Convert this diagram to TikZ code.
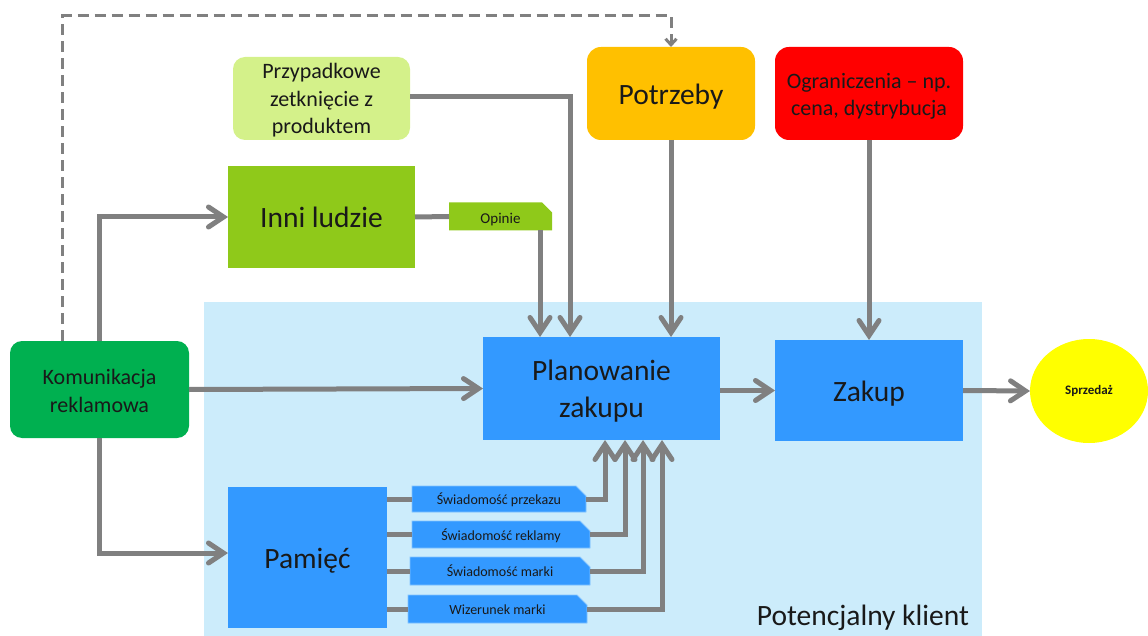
\documentclass[tikz,border=0pt]{standalone}
\usepackage{fontspec}
\setmainfont{Carlito}
\usetikzlibrary{arrows.meta,shapes.misc,shapes.geometric}
\definecolor{bgblue}{RGB}{204,236,251}
\definecolor{boxblue}{RGB}{51,153,255}
\definecolor{lightedge}{RGB}{130,195,255}
\definecolor{komgreen}{RGB}{0,176,80}
\definecolor{inngreen}{RGB}{143,201,26}
\definecolor{przgreen}{RGB}{212,241,138}
\definecolor{potorange}{RGB}{255,192,0}
\definecolor{ogrred}{RGB}{255,0,0}
\definecolor{sprz}{RGB}{255,255,0}
\definecolor{conn}{RGB}{128,128,128}
\definecolor{txt}{RGB}{25,25,25}
\begin{document}
\begin{tikzpicture}[x=1pt,y=-1pt,
  box/.style={inner sep=0pt, outer sep=0pt, align=center, text=txt},
  big/.style={font=\fontsize{29.5}{37}\selectfont},
  bigone/.style={big, text height=22pt, text depth=0pt},
  mid/.style={font=\fontsize{22}{27.5}\selectfont},
  small/.style={font=\fontsize{14}{16}\selectfont, text height=13pt, text depth=2pt},
  chip/.style={box, chamfered rectangle, chamfered rectangle corners=north east,
    chamfered rectangle xsep=5pt, chamfered rectangle ysep=5pt},
  arr/.style={draw=conn, line width=5pt, -{Straight Barb[length=15pt,width=20pt,line cap=round]}},
  plain/.style={draw=conn, line width=5pt},
  dashconn/.style={draw=conn, line width=3pt, dash pattern=on 11pt off 6pt,
    -{Straight Barb[length=6pt,width=11pt]}}
]
\useasboundingbox (0,0) rectangle (1148,636);
\node[box, fill=bgblue, minimum width=778pt, minimum height=340pt, anchor=north west] (bg) at (204,302) {};
\node[box, big, anchor=east] (pk) at (969,618) {Potencjalny klient};

\node[box, mid, fill=komgreen, rounded corners=12pt, minimum width=179pt, minimum height=97pt] (kom) at (99.5,389.5) {\rule{0pt}{18.5pt}Komunikacja\\reklamowa};
\node[box, bigone, fill=inngreen, minimum width=187pt, minimum height=102pt] (inni) at (321.5,217) {Inni ludzie};
\node[chip, fill=inngreen, font=\fontsize{15}{17}\selectfont, text height=16pt, text depth=2pt, minimum width=103pt, minimum height=27pt] (op) at (500.5,216.5) {Opinie};
\node[box, mid, fill=przgreen, rounded corners=12pt, minimum width=177pt, minimum height=83pt] (prz) at (321.5,98.5) {\rule{0pt}{19.5pt}Przypadkowe\\zetknięcie z\\produktem};
\node[box, bigone, fill=potorange, rounded corners=14pt, minimum width=168pt, minimum height=93pt] (pot) at (671,93.5) {Potrzeby};
\node[box, mid, fill=ogrred, rounded corners=14pt, minimum width=188pt, minimum height=93pt] (ogr) at (869,93.5) {\rule{0pt}{21pt}Ograniczenia – np.\\cena, dystrybucja};
\node[box, big, fill=boxblue, minimum width=237pt, minimum height=103pt] (plan) at (601.5,388.5) {\rule{0pt}{26.5pt}Planowanie\\zakupu};
\node[box, bigone, fill=boxblue, minimum width=188pt, minimum height=101pt] (zak) at (869,390.5) {Zakup};
\node[box, ellipse, fill=sprz, minimum width=118pt, minimum height=104pt, font=\fontsize{13}{15}\selectfont\bfseries] (sp) at (1089,391) {Sprzedaż};
\node[box, bigone, fill=boxblue, minimum width=159pt, minimum height=141pt] (pam) at (307.5,557.5) {Pamięć};

\node[chip, small, fill=boxblue, draw=lightedge, line width=0.8pt, minimum width=174pt, minimum height=26pt] (s1) at (499,499) {Świadomość przekazu};
\node[chip, small, fill=boxblue, draw=lightedge, line width=0.8pt, minimum width=178pt, minimum height=27pt] (s2) at (501,534.5) {Świadomość reklamy};
\node[chip, small, fill=boxblue, draw=lightedge, line width=0.8pt, minimum width=180pt, minimum height=28pt] (s3) at (500,571) {Świadomość marki};
\node[chip, small, fill=boxblue, draw=lightedge, line width=0.8pt, minimum width=179pt, minimum height=28pt] (s4) at (497.5,609) {Wizerunek marki};

% connectors
\draw[dashconn] ([xshift=-37pt]kom.north) |- ([yshift=31pt]pot.north) -- (pot.north);
\draw[arr] (kom.north) |- (inni.west);
\draw[arr] (kom.south) |- ([yshift=4.5pt]pam.west);
\draw[arr] (kom.east) -- (plan.west);
\draw[plain] (inni.east) -- (op.west);
\draw[arr] ([xshift=39.5pt]op.south) -- ([xshift=-61.5pt]plan.north);
\draw[arr] ([yshift=1.5pt]prz.east) -| ([xshift=-31.5pt]plan.north);
\draw[arr] (pot.south) -- (pot.south |- plan.north);
\draw[arr] (ogr.south) -- (zak.north);
\draw[arr] (zak.west -| plan.east) -- (zak.west);
\draw[arr] (zak.east) -- (sp.west);
\draw[plain] (pam.east |- s1.west) -- (s1.west);
\draw[plain] (pam.east |- s2.west) -- (s2.west);
\draw[plain] (pam.east |- s3.west) -- (s3.west);
\draw[plain] (pam.east |- s4.west) -- (s4.west);
\draw[arr] (s1.east) -| ([xshift=3.5pt]plan.south);
\draw[arr] (s2.east) -| ([xshift=23.5pt]plan.south);
\draw[arr] (s3.east) -| ([xshift=41.5pt]plan.south);
\draw[arr] (s4.east) -| ([xshift=60.5pt]plan.south);
\end{tikzpicture}
\end{document}
